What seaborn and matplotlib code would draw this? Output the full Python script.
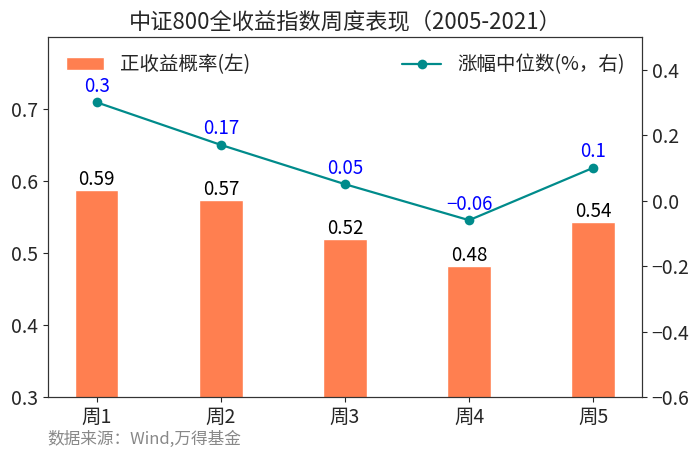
import seaborn as sns
import pandas as pd
import numpy as np
import matplotlib.pyplot as plt

weeks = ['周1', '周2', '周3', '周4', '周5']
pos_prob = [0.587, 0.573, 0.519, 0.482, 0.543]
median_ret = [0.30, 0.17, 0.05, -0.06, 0.10]

sns.set_style('ticks')
plt.rcParams['font.family'] = ['Noto Sans CJK SC', 'DejaVu Sans']
plt.rcParams['axes.unicode_minus'] = True

df = pd.DataFrame({'week': weeks, 'prob': pos_prob, 'ret': median_ret})

fig, ax = plt.subplots(figsize=(7, 4.55), dpi=100)
sns.barplot(data=df, x='week', y='prob', color='#FF7F50', saturation=1,
            width=0.35, ax=ax, label='正收益概率(左)')
ax.set_ylim(0.3, 0.8)
ax.set_yticks([0.3, 0.4, 0.5, 0.6, 0.7])
ax.set_xlabel('')
ax.set_ylabel('')
for i, v in enumerate(pos_prob):
    ax.text(i, v, f'{v:.2f}', ha='center', va='bottom', fontsize=13.5, color='black')

ax2 = ax.twinx()
sns.lineplot(x=np.arange(len(weeks)), y=median_ret, color='#008B8B', marker='o',
             markersize=7, markeredgewidth=0, linewidth=1.6, ax=ax2,
             label='涨幅中位数(%，右)')
ax2.set_ylim(-0.6, 0.5)
ax2.set_yticks([-0.6, -0.4, -0.2, 0.0, 0.2, 0.4])
ax2.set_yticklabels([f'{t:.1f}'.replace('-', '\u2212') for t in [-0.6, -0.4, -0.2, 0.0, 0.2, 0.4]])
for i, v in enumerate(median_ret):
    ax2.annotate(f'{v:g}'.replace('-', '\u2212'), (i, v), xytext=(0, 4),
                 textcoords='offset points', ha='center', va='bottom',
                 fontsize=13.5, color='blue')

for a in (ax, ax2):
    a.tick_params(labelsize=14)
    for s in a.spines.values():
        s.set_visible(True)
        s.set_color('#333333')

ax.legend(loc='upper left', frameon=False, fontsize=14)
ax2.legend(loc='upper right', frameon=False, fontsize=14)
ax.set_title('中证800全收益指数周度表现（2005-2021）', fontsize=16)
fig.subplots_adjust(left=0.0686, right=0.917, top=0.919, bottom=0.1275)
fig.text(0.068, 0.025, '数据来源：Wind,万得基金', fontsize=12, color='#888888')
fig.savefig('out.png')
